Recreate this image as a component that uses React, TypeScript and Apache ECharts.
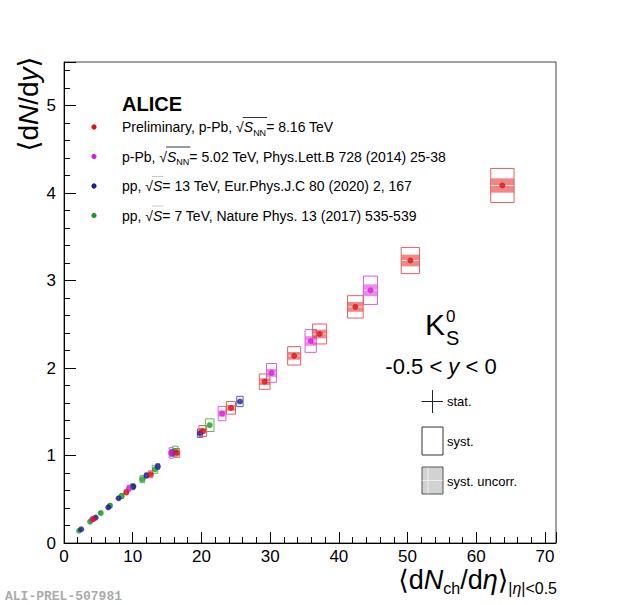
import React, { useEffect, useRef } from "react";
import * as echarts from "echarts";

// p-Pb sqrt(sNN) = 8.16 TeV (preliminary)
const ppb816X = [4.27, 9.07, 12.6, 16.4, 20.2, 24.3, 29.2, 33.5, 37.2, 42.4, 50.4, 63.8];
const ppb816Y = [0.275, 0.58, 0.786, 1.03, 1.28, 1.545, 1.845, 2.14, 2.39, 2.7, 3.23, 4.088];
const ppb816SysX = [0.12, 0.25, 0.34, 0.44, 0.56, 0.66, 0.78, 0.95, 1.02, 1.14, 1.33, 1.7];
const ppb816SysY = [0.014, 0.029, 0.039, 0.05, 0.063, 0.072, 0.088, 0.105, 0.114, 0.128, 0.15, 0.195];
const ppb816UncY = [0.006, 0.012, 0.016, 0.021, 0.027, 0.032, 0.038, 0.044, 0.05, 0.056, 0.067, 0.082];

// p-Pb sqrt(sNN) = 5.02 TeV
const ppb502X = [4.1, 9.46, 15.6, 23.0, 30.2, 35.9, 44.6];
const ppb502Y = [0.27, 0.626, 1.03, 1.48, 1.945, 2.31, 2.89];
const ppb502SysX = [0.1, 0.23, 0.3, 0.56, 0.72, 0.82, 1.02];
const ppb502SysY = [0.015, 0.035, 0.06, 0.082, 0.107, 0.13, 0.162];
const ppb502UncY = [0.007, 0.015, 0.025, 0.035, 0.045, 0.055, 0.068];

// pp sqrt(s) = 13 TeV
const pp13X = [2.5, 4.6, 6.45, 7.95, 10.1, 12.0, 13.65, 15.75, 19.8, 25.6];
const pp13Y = [0.157, 0.29, 0.408, 0.512, 0.645, 0.772, 0.875, 1.03, 1.255, 1.618];
const pp13SysX = [0.05, 0.09, 0.13, 0.16, 0.2, 0.24, 0.27, 0.32, 0.39, 0.46];
const pp13SysY = [0.006, 0.011, 0.015, 0.019, 0.024, 0.029, 0.032, 0.038, 0.048, 0.059];

// pp sqrt(s) = 7 TeV
const pp7X = [2.2, 3.8, 5.35, 6.7, 8.4, 10.0, 11.4, 13.25, 16.2, 21.2];
const pp7Y = [0.14, 0.244, 0.343, 0.427, 0.538, 0.644, 0.73, 0.843, 1.05, 1.347];
const pp7SysX = [0.07, 0.11, 0.16, 0.2, 0.25, 0.3, 0.34, 0.4, 0.41, 0.63];
const pp7SysY = [0.008, 0.013, 0.019, 0.023, 0.029, 0.035, 0.04, 0.046, 0.057, 0.072];

const xTicks = [0, 10, 20, 30, 40, 50, 60, 70];
const yTicks = [0, 1, 2, 3, 4, 5];

const legendPrefixes = ["Preliminary, p-Pb, ", "p-Pb, ", "pp, ", "pp, "];
const legendSubs = ["NN", "NN", "", ""];
const legendSuffixes = [
  "= 8.16 TeV",
  "= 5.02 TeV, Phys.Lett.B 728 (2014) 25-38",
  "= 13 TeV, Eur.Phys.J.C 80 (2020) 2, 167",
  "= 7 TeV, Nature Phys. 13 (2017) 535-539",
];

const FONT = '"Liberation Sans", Arial, Helvetica, "DejaVu Sans", sans-serif';

const RED = "#e01010";
const MAGENTA = "#d81ed8";
const BLUE = "#1c1c9c";
const GREEN = "#1a9a1a";
const legendColors = [RED, MAGENTA, BLUE, GREEN];
const legendY = [127, 156.5, 186, 215.5];

function boxSeries(
  name: string,
  xs: number[],
  ys: number[],
  sx: number[],
  sy: number[],
  su: number[] | null,
  stroke: string,
  fill: string
) {
  return {
    name: name + "-syst",
    type: "custom",
    z: 2,
    silent: true,
    data: xs.map((x, i) => [x, ys[i], sx[i], sy[i], su ? su[i] : 0]),
    encode: { x: 0, y: 1 },
    renderItem: (params: any, api: any) => {
      const x = api.value(0);
      const y = api.value(1);
      const ex = api.value(2);
      const ey = api.value(3);
      const eu = api.value(4);
      const p1 = api.coord([x - ex, y + ey]);
      const p2 = api.coord([x + ex, y - ey]);
      const children: any[] = [];
      if (eu > 0) {
        const u1 = api.coord([x - ex, y + eu]);
        const u2 = api.coord([x + ex, y - eu]);
        children.push({
          type: "rect",
          shape: { x: u1[0], y: u1[1], width: u2[0] - u1[0], height: u2[1] - u1[1] },
          style: { fill: fill, stroke: "none" },
        });
        const ym = (u1[1] + u2[1]) / 2;
        children.push({
          type: "line",
          shape: { x1: u1[0], y1: ym, x2: u2[0], y2: ym },
          style: { stroke: "rgba(255,255,255,0.7)", lineWidth: 1 },
        });
      }
      children.push({
        type: "rect",
        shape: { x: p1[0], y: p1[1], width: p2[0] - p1[0], height: p2[1] - p1[1] },
        style: { fill: "none", stroke: stroke, lineWidth: 1 },
      });
      return { type: "group", children };
    },
  };
}

function markerSeries(name: string, xs: number[], ys: number[], color: string) {
  return {
    name,
    type: "scatter",
    z: 3,
    symbol: "circle",
    symbolSize: 6,
    itemStyle: { color },
    data: xs.map((x, i) => [x, ys[i]]),
  };
}

const legRich = {
  t: { fontSize: 14, fontFamily: FONT, color: "#000", lineHeight: 20 },
  i: { fontSize: 14, fontFamily: FONT, color: "#000", fontStyle: "italic", lineHeight: 20 },
  s: { fontSize: 9, fontFamily: FONT, color: "#000", lineHeight: 9, verticalAlign: "bottom" },
};

export default function App() {
  const ref = useRef<HTMLDivElement>(null);
  useEffect(() => {
    const chart = echarts.init(ref.current!, null, { renderer: "svg" });
    const measure = (t: string, size: number, italic = false) =>
      echarts.format.getTextRect
        ? (echarts.format as any).getTextRect?.(t, `${italic ? "italic " : ""}${size}px ${FONT}`)?.width
        : undefined;
    const graphic: any[] = [];
    graphic.push({
      type: "text",
      x: 122,
      y: 104,
      style: { text: "ALICE", font: `bold 20px ${FONT}`, fill: "#000", verticalAlign: "middle" },
    });
    legendPrefixes.forEach((pre, i) => {
      const sub = legendSubs[i];
      const text =
        `{t|${pre}√}{i|S}` + (sub ? `{s|${sub}}` : "") + `{t|${legendSuffixes[i]}}`;
      graphic.push({
        type: "circle",
        shape: { cx: 94, cy: legendY[i], r: 2.6 },
        style: { fill: legendColors[i] },
      });
      graphic.push({
        type: "text",
        x: 122,
        y: legendY[i],
        style: { text, rich: legRich, verticalAlign: "middle", fill: "#000" },
      });
      // overline of the square root
      const wPre = measure(pre + "√", 14);
      const wS = measure("S", 14, true);
      const wSub = sub ? measure(sub, 9) : 0;
      if (typeof wPre === "number" && typeof wS === "number") {
        const x1 = 122 + wPre - 1;
        const x2 = 122 + wPre + wS + (wSub || 0) + 1;
        graphic.push({
          type: "line",
          shape: { x1, y1: legendY[i] - 9.5, x2, y2: legendY[i] - 9.5 },
          style: { stroke: sub ? "#000" : "#bbb", lineWidth: 0.8 },
        });
      }
    });
    // Y axis title
    graphic.push({
      type: "text",
      x: 28,
      y: 104,
      rotation: Math.PI / 2,
      style: {
        text: "{a|⟨d}{i|N}{a|/d}{i|y}{a|⟩}",
        align: "center",
        verticalAlign: "middle",
        rich: {
          a: { fontSize: 28, fontFamily: FONT, color: "#000" },
          i: { fontSize: 28, fontFamily: FONT, color: "#000", fontStyle: "italic" },
        },
      },
    });
    // X axis title
    graphic.push({
      type: "text",
      x: 557,
      y: 580,
      style: {
        text: "{a|⟨d}{i|N}{s|ch}{a|/d}{i|η}{a|⟩}{s||}{si|η}{s||<0.5}",
        align: "right",
        verticalAlign: "middle",
        rich: {
          a: { fontSize: 27, fontFamily: FONT, color: "#000", lineHeight: 32 },
          i: { fontSize: 27, fontFamily: FONT, color: "#000", fontStyle: "italic", lineHeight: 32 },
          s: { fontSize: 16, fontFamily: FONT, color: "#000", lineHeight: 14, verticalAlign: "bottom" },
          si: { fontSize: 16, fontFamily: FONT, color: "#000", fontStyle: "italic", lineHeight: 14, verticalAlign: "bottom" },
        },
      },
    });
    // K0S
    graphic.push({
      type: "text",
      x: 425,
      y: 324,
      style: { text: "K", font: `30px ${FONT}`, fill: "#000", verticalAlign: "middle" },
    });
    graphic.push({
      type: "text",
      x: 446,
      y: 316.5,
      style: { text: "0", font: `17px ${FONT}`, fill: "#000", verticalAlign: "middle" },
    });
    graphic.push({
      type: "text",
      x: 446,
      y: 337.5,
      style: { text: "S", font: `20px ${FONT}`, fill: "#000", verticalAlign: "middle" },
    });
    graphic.push({
      type: "text",
      x: 441,
      y: 366,
      style: {
        text: "{a|-0.5 < }{i|y}{a| < 0}",
        align: "center",
        verticalAlign: "middle",
        rich: {
          a: { fontSize: 22, fontFamily: FONT, color: "#000" },
          i: { fontSize: 22, fontFamily: FONT, color: "#000", fontStyle: "italic" },
        },
      },
    });
    // stat / syst legend
    graphic.push({ type: "line", shape: { x1: 432.5, y1: 390, x2: 432.5, y2: 413 }, style: { stroke: "#222", lineWidth: 1 } });
    graphic.push({ type: "line", shape: { x1: 421.5, y1: 401.5, x2: 443, y2: 401.5 }, style: { stroke: "#222", lineWidth: 1 } });
    graphic.push({ type: "text", x: 447, y: 401, style: { text: "stat.", font: `13px ${FONT}`, fill: "#000", verticalAlign: "middle" } });
    graphic.push({ type: "rect", shape: { x: 422, y: 427, width: 21, height: 28 }, style: { fill: "none", stroke: "#333", lineWidth: 1 } });
    graphic.push({ type: "text", x: 447, y: 441, style: { text: "syst.", font: `13px ${FONT}`, fill: "#000", verticalAlign: "middle" } });
    graphic.push({ type: "rect", shape: { x: 422, y: 467, width: 21, height: 27 }, style: { fill: "#d2d2d2", stroke: "#555", lineWidth: 1 } });
    graphic.push({ type: "line", shape: { x1: 428, y1: 467.5, x2: 428, y2: 493.5 }, style: { stroke: "#eeeeee", lineWidth: 1 } });
    graphic.push({ type: "line", shape: { x1: 422.5, y1: 480.5, x2: 442.5, y2: 480.5 }, style: { stroke: "#eeeeee", lineWidth: 1 } });
    graphic.push({ type: "text", x: 447, y: 481, style: { text: "syst. uncorr.", font: `13px ${FONT}`, fill: "#000", verticalAlign: "middle" } });
    graphic.push({
      type: "text",
      x: 5,
      y: 596,
      style: { text: "ALI-PREL-507981", font: `bold 13px "Liberation Mono", "DejaVu Sans Mono", monospace`, fill: "#ababab", verticalAlign: "middle" },
    });

    const option: any = {
      animation: false,
      backgroundColor: "#fff",
      grid: { left: 64, right: 64, top: 62, bottom: 62, show: true, borderColor: "#444", borderWidth: 1 },
      xAxis: {
        type: "value",
        min: 0,
        max: 71.6,
        interval: 10,
        axisLine: { show: true, lineStyle: { color: "#000", width: 1 } },
        axisTick: { show: true, inside: true, length: 11, lineStyle: { color: "#000" } },
        minorTick: { show: true, splitNumber: 5, length: 6, lineStyle: { color: "#000" } },
        splitLine: { show: false },
        axisLabel: {
          show: true,
          margin: 5,
          showMaxLabel: false,
          fontSize: 17,
          fontFamily: FONT,
          color: "#000",
          formatter: (v: number) => (xTicks.indexOf(v) >= 0 ? String(v) : ""),
        },
      },
      yAxis: {
        type: "value",
        min: 0,
        max: 5.5,
        interval: 1,
        axisLine: { show: true, lineStyle: { color: "#000", width: 1 } },
        axisTick: { show: true, inside: true, length: 12, lineStyle: { color: "#000" } },
        minorTick: { show: true, splitNumber: 5, length: 6, lineStyle: { color: "#000" } },
        splitLine: { show: false },
        axisLabel: {
          show: true,
          margin: 8,
          showMaxLabel: false,
          fontSize: 17,
          fontFamily: FONT,
          color: "#000",
          formatter: (v: number) => (yTicks.indexOf(v) >= 0 ? String(v) : ""),
        },
      },
      series: [
        boxSeries("pp7", pp7X, pp7Y, pp7SysX, pp7SysY, null, "#5cb85c", "rgba(26,154,26,0.4)"),
        boxSeries("pp13", pp13X, pp13Y, pp13SysX, pp13SysY, null, "#5a5ac0", "rgba(28,28,156,0.4)"),
        boxSeries("ppb502", ppb502X, ppb502Y, ppb502SysX, ppb502SysY, ppb502UncY, "#e05ae0", "rgba(216,30,216,0.5)"),
        boxSeries("ppb816", ppb816X, ppb816Y, ppb816SysX, ppb816SysY, ppb816UncY, "#e06060", "rgba(224,16,16,0.5)"),
        markerSeries("pp, √s = 7 TeV", pp7X, pp7Y, GREEN),
        markerSeries("pp, √s = 13 TeV", pp13X, pp13Y, BLUE),
        markerSeries("p-Pb, √sNN = 5.02 TeV", ppb502X, ppb502Y, MAGENTA),
        markerSeries("p-Pb, √sNN = 8.16 TeV", ppb816X, ppb816Y, RED),
      ],
      graphic,
    };
    chart.setOption(option);
    return () => chart.dispose();
  }, []);
  return (
    <div
      ref={ref}
      style={{ position: "fixed", left: 0, top: 0, width: 620, height: 605, background: "#fff" }}
    />
  );
}
